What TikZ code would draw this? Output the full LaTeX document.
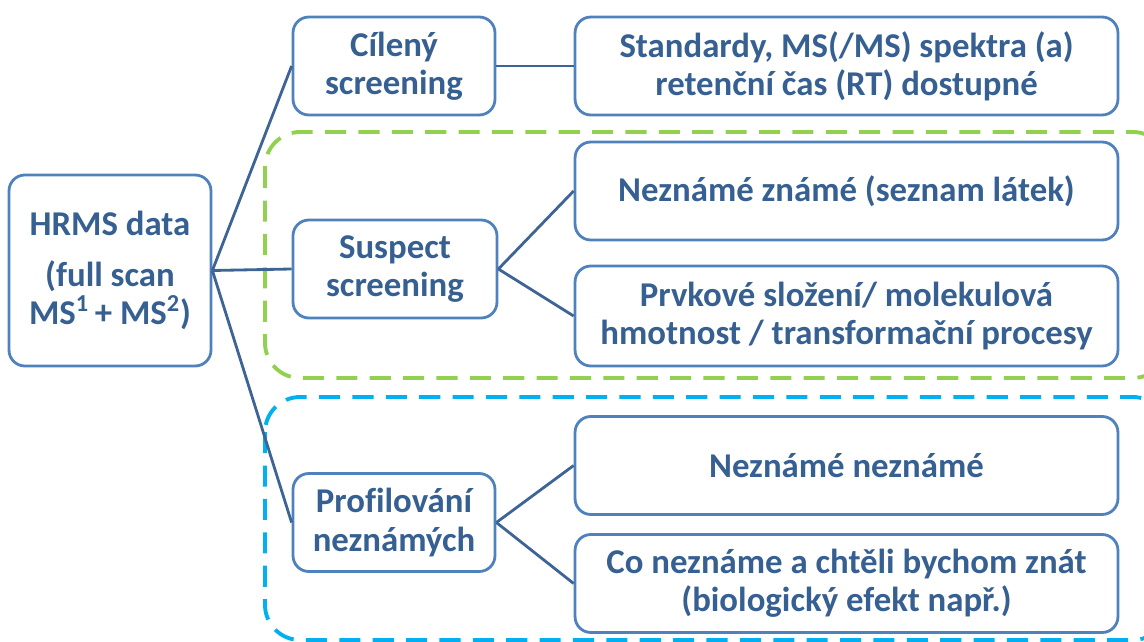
\documentclass[tikz,border=0pt]{standalone}
\usepackage{fontspec}
\setmainfont{Carlito}[Ligatures=CommonOff]
\usetikzlibrary{positioning}
\definecolor{boxblue}{RGB}{79,129,189}
\definecolor{txtblue}{RGB}{55,96,146}
\definecolor{linkblue}{RGB}{62,100,150}
\definecolor{suspgreen}{RGB}{146,208,80}
\definecolor{profblue}{RGB}{0,176,240}

\begin{document}
\begin{tikzpicture}[x=0.02cm, y=-0.02cm,
  box/.style={draw=boxblue, line width=1.6pt, rounded corners=9pt, align=center,
    text=txtblue, font=\fontsize{19.8}{21.8}\selectfont\bfseries, inner sep=2pt},
  small/.style={box, minimum width=4.04cm, minimum height=1.96cm},
  wide/.style={box, minimum width=10.86cm, minimum height=1.96cm},
  link/.style={draw=linkblue, line width=1.6pt},
  group/.style={line width=2.2pt, dash pattern=on 12pt off 7pt, rounded corners=20pt}]
  \useasboundingbox (0,0) rectangle (1144,642);
  \clip (0,0) rectangle (1144,642);

  % Dashed groups
  \draw[group, draw=suspgreen] (265,132) rectangle (1168,378);
  \draw[group, draw=profblue] (265,397) rectangle (1168,640);

  % Root
  \node[box, minimum width=4.04cm, minimum height=3.82cm] (hrms) at (110,270.5)
    {HRMS data\\[7pt](full scan\\MS\textsuperscript{1}\,+ MS\textsuperscript{2})};

  % Screening types
  \node[small] (target) at (394,66) {Cílený\\screening};
  \node[small, minimum width=4.08cm] (suspect) at (395,269) {Suspect\\screening};
  \node[small] (nontarget) at (394,522.5) {Profilování\\neznámých};

  % Details
  \node[wide] (std) at (846.5,66) {Standardy, MS(/MS) spektra (a)\\retenční čas (RT) dostupné};
  \node[wide] (known) at (846.5,191) {Neznámé známé (seznam látek)};
  \node[wide, minimum height=2cm] (formula) at (846.5,316) {Prvkové složení/ molekulová\\hmotnost / transformační procesy};
  \node[wide] (unknown) at (846.5,465.5) {Neznámé neznámé};
  \node[wide] (bio) at (846.5,583.5) {Co neznáme a chtěli bychom znát\\(biologický efekt např.)};

  % Links
  \draw[link] (hrms.east) -- (target.west);
  \draw[link] (hrms.east) -- (suspect.west);
  \draw[link] (hrms.east) -- (nontarget.west);
  \draw[link] (target.east) -- (std.west);
  \draw[link] (suspect.east) -- (known.west);
  \draw[link] (suspect.east) -- (formula.west);
  \draw[link] (nontarget.east) -- (unknown.west);
  \draw[link] (nontarget.east) -- (bio.west);
\end{tikzpicture}
\end{document}
